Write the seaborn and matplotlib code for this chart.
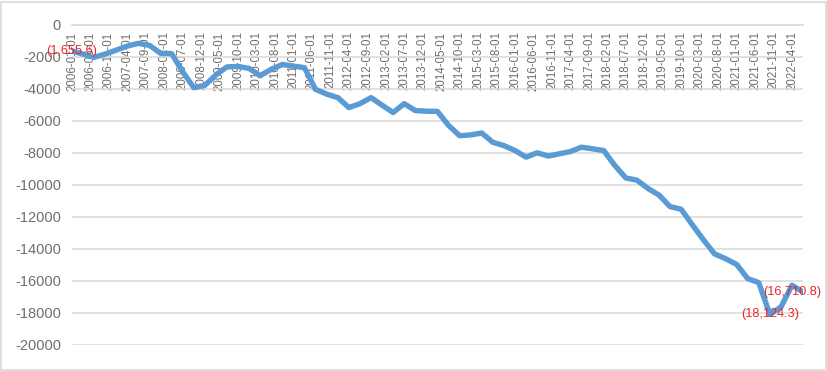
import matplotlib
matplotlib.use("Agg")
import matplotlib.pyplot as plt
from matplotlib.patches import Rectangle
import seaborn as sns
import pandas as pd

# ---- data (quarterly) ----
start_date = "2006-01-01"
values = [
    -1655.6, -1850, -2050, -1850, -1600, -1350, -1180, -1300, -1800, -1820,
    -2950, -3950, -3800, -3150, -2650, -2620, -2750, -3200, -2800, -2500,
    -2600, -2700, -4050, -4350, -4570, -5190, -4950, -4570, -5050, -5500,
    -4950, -5380, -5420, -5430, -6300, -6950, -6900, -6780, -7360, -7570,
    -7880, -8290, -8020, -8220, -8080, -7940, -7670, -7770, -7880, -8800,
    -9590, -9730, -10250, -10660, -11380, -11550, -12520, -13450, -14330, -14640,
    -15000, -15880, -16130, -18124.3, -17650, -16300, -16710.8,
]
dates = pd.date_range(start_date, periods=len(values), freq="QS")
tick_dates = pd.date_range("2006-01-01", "2022-04-01", freq="5MS")
y_ticks = list(range(-20000, 1, 2000))
labeled_idx = [0, 63, 66]

df = pd.DataFrame({"date": dates, "value": values})

sns.set_theme(style="white")
plt.rcParams["font.family"] = ["Liberation Sans", "DejaVu Sans"]

fig = plt.figure(figsize=(8.28, 3.71), dpi=100)
ax = fig.add_axes([72 / 828, 1 - 344.5 / 371, (803 - 72) / 828, (344.5 - 24.5) / 371])

sns.lineplot(data=df, x="date", y="value", ax=ax, color="#5b9bd5", linewidth=3.9,
             zorder=3)

ax.set_ylim(-20000, 0)
ax.set_xlim(pd.Timestamp("2006-01-01"), pd.Timestamp("2022-07-01"))
for s in ["left", "right", "top"]:
    ax.spines[s].set_visible(False)
ax.spines["bottom"].set_position(("data", 0))
ax.spines["bottom"].set_color("#d9d9d9")
ax.spines["bottom"].set_linewidth(1.1)

ax.set_yticks(y_ticks)
ax.set_yticklabels([str(v) for v in y_ticks])
ax.set_xticks(tick_dates)
ax.set_xticklabels([d.strftime("%Y-%m-%d") for d in tick_dates])
ax.set_xlabel("")
ax.set_ylabel("")
ax.tick_params(axis="x", length=0, pad=5, labelsize=8.3, colors="#6e6e6e",
               labelrotation=90)
ax.tick_params(axis="y", length=0, pad=8, labelsize=10.5, colors="#6e6e6e")
for lab in ax.get_xticklabels():
    lab.set_va("top")
    lab.set_ha("center")

ax.grid(axis="y", color="#d9d9d9", linewidth=1.1, zorder=0)
ax.grid(axis="x", visible=False)
ax.patch.set_alpha(0)

def fmt(v):
    return "({:,.1f})".format(abs(v))

offsets = {0: (0, 0), 63: (0, 0), 66: (-8, 0)}
for i in labeled_idx:
    ax.annotate(fmt(values[i]), (dates[i], values[i]), xytext=offsets[i],
                textcoords="offset points", ha="center", va="center",
                color="#e8262b", fontsize=9.2, zorder=5)

fig.patches.append(Rectangle((1.5 / 828, 1.5 / 371), 825 / 828, 368 / 371,
                             transform=fig.transFigure, fill=False,
                             edgecolor="#d9d9d9", linewidth=1.2))

fig.savefig("out.png", dpi=100)
